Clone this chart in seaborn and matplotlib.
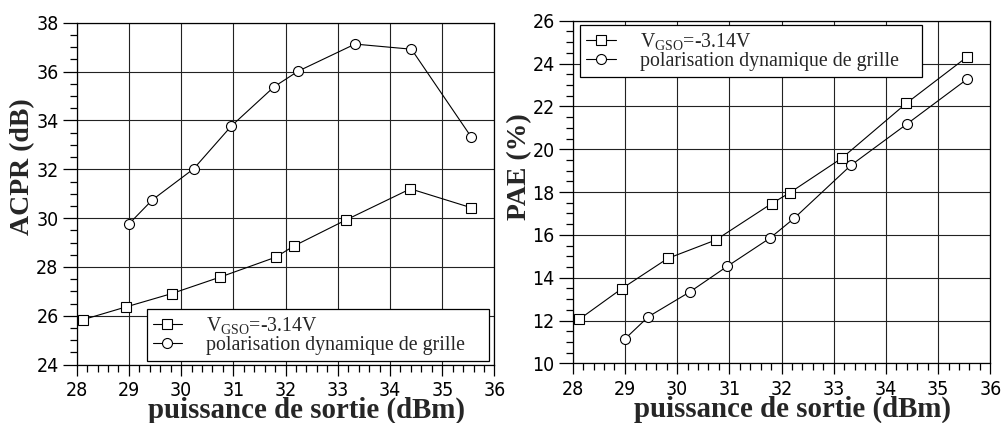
import matplotlib
matplotlib.use("Agg")
import matplotlib.pyplot as plt
from matplotlib.ticker import MultipleLocator
import pandas as pd
import seaborn as sns

# Output power (dBm) for the two bias modes
p_out_fixed = [28.12, 28.94, 29.82, 30.74, 31.81, 32.16, 33.16, 34.39, 35.55]
p_out_dynamic = [29.00, 29.45, 30.24, 30.96, 31.78, 32.24, 33.33, 34.41, 35.55]

# ACPR (dB)
acpr_fixed = [25.84, 26.36, 26.91, 27.58, 28.40, 28.86, 29.93, 31.20, 30.43]
acpr_dynamic = [29.76, 30.75, 32.02, 33.77, 35.38, 36.02, 37.13, 36.92, 33.34]

# PAE (%)
pae_fixed = [12.05, 13.49, 14.90, 15.76, 17.46, 17.97, 19.59, 22.14, 24.30]
pae_dynamic = [11.14, 12.18, 13.33, 14.53, 15.85, 16.77, 19.25, 21.19, 23.26]

series_names = [r"V$_{\rm GSO}$=-3.14V", "polarisation dynamique de grille"]
series_markers = ["s", "o"]

x_label = "puissance de sortie (dBm)"
y_labels = ["ACPR (dB)", "PAE (%)"]
x_ticks = [28, 29, 30, 31, 32, 33, 34, 35, 36]
y_ticks_acpr = [24, 26, 28, 30, 32, 34, 36, 38]
y_ticks_pae = [10, 12, 14, 16, 18, 20, 22, 24, 26]

sns.set_style("ticks")
plt.rcParams["font.family"] = ["DejaVu Sans"]
plt.rcParams["mathtext.fontset"] = "custom"
plt.rcParams["mathtext.rm"] = "Liberation Serif"
plt.rcParams["mathtext.it"] = "Liberation Serif:italic"

df = pd.DataFrame({
    "p_out": p_out_fixed + p_out_dynamic,
    "acpr": acpr_fixed + acpr_dynamic,
    "pae": pae_fixed + pae_dynamic,
    "serie": [series_names[0]] * len(p_out_fixed) + [series_names[1]] * len(p_out_dynamic),
})

fig = plt.figure(figsize=(10.02, 4.23), dpi=100)
ax1 = fig.add_axes([0.0765, 0.138, 0.417, 0.808])
ax2 = fig.add_axes([0.5716, 0.141, 0.4167, 0.810])

xlabel_font = dict(family="Liberation Serif", weight="bold", size=20.8)
ylabel_font = dict(family="Liberation Serif", weight="bold", size=20)

def draw(ax, ycol, yticks, ylabel, legend_kw):
    handles = []
    for name, mk, msize in zip(series_names, series_markers, [6.8, 7.2]):
        sub = df[df["serie"] == name]
        sns.lineplot(data=sub, x="p_out", y=ycol, ax=ax, color="black",
                     marker=mk, markersize=msize, markerfacecolor="white",
                     markeredgecolor="black", markeredgewidth=0.8,
                     linewidth=0.8, legend=False, zorder=3)
        handles.append(ax.lines[-1])
    ax.set_xlim(x_ticks[0], x_ticks[-1])
    ax.set_ylim(yticks[0], yticks[-1])
    ax.set_xticks(x_ticks)
    ax.set_yticks(yticks)
    ax.xaxis.set_minor_locator(MultipleLocator(0.2))
    ax.yaxis.set_minor_locator(MultipleLocator(0.5))
    ax.tick_params(axis="both", which="major", direction="out", length=8,
                   width=0.9, color="black", labelsize=14, labelcolor="black")
    ax.tick_params(axis="x", which="major", pad=4)
    ax.tick_params(axis="y", which="major", length=10, pad=3)
    ax.tick_params(axis="both", which="minor", direction="out", length=5,
                   width=0.9, color="black")
    for lbl in ax.get_xticklabels() + ax.get_yticklabels():
        lbl.set_fontstretch("condensed")
    ax.grid(True, which="major", color="#222222", linewidth=0.8)
    ax.set_axisbelow(True)
    for sp in ax.spines.values():
        sp.set_visible(True)
        sp.set_color("black")
        sp.set_linewidth(0.9)
    ax.set_xlabel(x_label, fontdict=xlabel_font)
    ax.set_ylabel(ylabel, fontdict=ylabel_font)
    leg = ax.legend(handles, series_names, mode="expand", borderaxespad=0,
                    frameon=True, fancybox=False, edgecolor="black",
                    framealpha=1, handlelength=1.5, handletextpad=1.2,
                    labelspacing=0.0, borderpad=0.3,
                    prop=dict(family="Liberation Serif", size=14.3),
                    **legend_kw)
    leg.get_frame().set_linewidth(0.9)
    leg.set_zorder(5)
    return ax

draw(ax1, "acpr", y_ticks_acpr, y_labels[0],
     dict(loc="lower left", bbox_to_anchor=(0.1675, 0.0102, 0.82, 0.154)))
draw(ax2, "pae", y_ticks_pae, y_labels[1],
     dict(loc="upper left", bbox_to_anchor=(0.0175, 0.832, 0.818, 0.1555)))

ax1.xaxis.set_label_coords(0.55, -0.093)
ax2.xaxis.set_label_coords(0.5275, -0.093)
ax1.yaxis.set_label_coords(-0.0998, 0.58)
ax2.yaxis.set_label_coords(-0.0975, 0.575)

fig.savefig("out.png", dpi=100)
